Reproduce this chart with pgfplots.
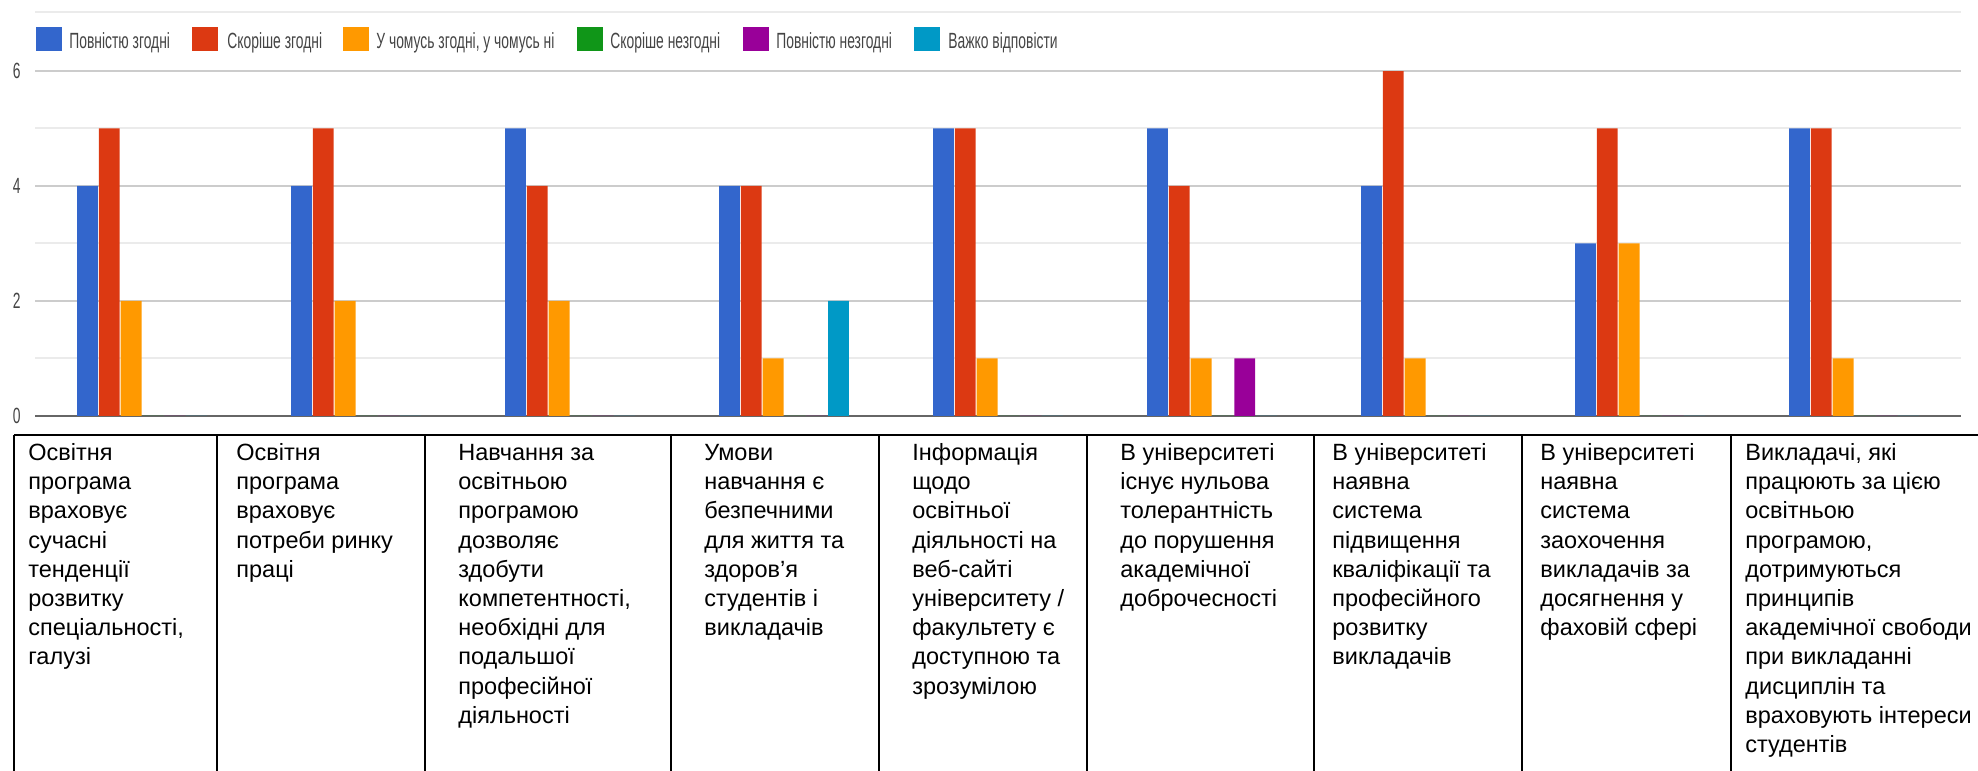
\documentclass[border=0pt]{standalone}
\usepackage{fontspec}
\setmainfont{Liberation Sans}
\newfontfamily\condfont[FakeStretch=0.63]{Liberation Sans}
\usepackage{pgfplots}
\pgfplotsset{compat=1.18}

\definecolor{gblue}{HTML}{3366CC}
\definecolor{gred}{HTML}{DC3912}
\definecolor{gorange}{HTML}{FF9900}
\definecolor{ggreen}{HTML}{109618}
\definecolor{gpurple}{HTML}{990099}
\definecolor{gteal}{HTML}{0099C6}
\definecolor{labelgray}{HTML}{444444}
\definecolor{gridmajor}{HTML}{CCCCCC}
\definecolor{gridminor}{HTML}{EBEBEB}
\definecolor{axisgray}{HTML}{666666}

\newcommand\cellfont{\fontsize{11.75pt}{14.6pt}\selectfont}
\newcommand\chartfont{\condfont\fontsize{11pt}{13pt}\selectfont\color{labelgray}}

\begin{document}
\begin{tikzpicture}[x=1pt,y=1pt]
\useasboundingbox (0,0) rectangle (989,385.5);

% light line above the legend
\draw[gridminor, line width=1pt] (17.5,379.5) -- (980.5,379.5);

\begin{axis}[
  at={(17.5pt,177.5pt)}, anchor=south west,
  scale only axis, width=963pt, height=172.5pt,
  xmin=-0.5, xmax=8.5, ymin=0, ymax=6,
  ybar=0.5pt, bar width=10.4pt,
  axis line style={draw=none},
  major tick length=0pt, minor tick length=0pt,
  xtick=\empty,
  ytick={2,4,6}, minor ytick={1,3,5},
  ymajorgrids, yminorgrids,
  major grid style={line width=1pt, draw=gridmajor},
  minor grid style={line width=1pt, draw=gridminor},
  extra y ticks={0},
  extra y tick style={major grid style={line width=1pt, draw=axisgray}},
  yticklabel style={font=\chartfont, inner sep=0pt, xshift=-7pt},
  /pgf/number format/assume math mode=true,
  clip=false,
]
% Повністю згодні
\addplot[fill=gblue, draw=none] coordinates {(0,4) (1,4) (2,5) (3,4) (4,5) (5,5) (6,4) (7,3) (8,5)};
% Скоріше згодні
\addplot[fill=gred, draw=none] coordinates {(0,5) (1,5) (2,4) (3,4) (4,5) (5,4) (6,6) (7,5) (8,5)};
% У чомусь згодні, у чомусь ні
\addplot[fill=gorange, draw=none] coordinates {(0,2) (1,2) (2,2) (3,1) (4,1) (5,1) (6,1) (7,3) (8,1)};
% Скоріше незгодні
\addplot[fill=ggreen, draw=none] coordinates {(0,0) (1,0) (2,0) (3,0) (4,0) (5,0) (6,0) (7,0) (8,0)};
% Повністю незгодні
\addplot[fill=gpurple, draw=none] coordinates {(0,0) (1,0) (2,0) (3,0) (4,0) (5,1) (6,0) (7,0) (8,0)};
% Важко відповісти
\addplot[fill=gteal, draw=none] coordinates {(0,0) (1,0) (2,0) (3,2) (4,0) (5,0) (6,0) (7,0) (8,0)};
\end{axis}

% legend
\foreach \sx/\tx/\col/\txt in {
  18/34.5/gblue/{Повністю згодні},
  96/113.5/gred/{Скоріше згодні},
  171.5/188/gorange/{У чомусь згодні, у чомусь ні},
  288.5/305/ggreen/{Скоріше незгодні},
  371.5/388/gpurple/{Повністю незгодні},
  457/474/gteal/{Важко відповісти}} {
  \fill[\col] (\sx,360) rectangle ++(13,12);
  \node[anchor=base west, inner sep=0pt, font=\chartfont] at (\tx,361) {\txt};
}

% table under the chart
\draw[black, line width=1pt] (7,168) -- (989,168);
\foreach \vx in {7,108.5,212.5,335.5,439.5,543.5,657,761,865.5}
  \draw[black, line width=1pt] (\vx,0) -- (\vx,168);

\tikzset{cell/.style={anchor=north west, inner sep=0pt, align=left, font=\cellfont}}
\node[cell] at (14,165.7) {\strut Освітня\\програма\\враховує\\сучасні\\тенденції\\розвитку\\спеціальності,\\галузі};
\node[cell] at (118,165.7) {\strut Освітня\\програма\\враховує\\потреби ринку\\праці};
\node[cell] at (229,165.7) {\strut Навчання за\\освітньою\\програмою\\дозволяє\\здобути\\компетентності,\\необхідні для\\подальшої\\професійної\\діяльності};
\node[cell] at (352,165.7) {\strut Умови\\навчання є\\безпечними\\для життя та\\здоров’я\\студентів і\\викладачів};
\node[cell] at (456,165.7) {\strut Інформація\\щодо\\освітньої\\діяльності на\\веб-сайті\\університету /\\факультету є\\доступною та\\зрозумілою};
\node[cell] at (560,165.7) {\strut В університеті\\існує нульова\\толерантність\\до порушення\\академічної\\доброчесності};
\node[cell] at (666,165.7) {\strut В університеті\\наявна\\система\\підвищення\\кваліфікації та\\професійного\\розвитку\\викладачів};
\node[cell] at (770,165.7) {\strut В університеті\\наявна\\система\\заохочення\\викладачів за\\досягнення у\\фаховій сфері};
\node[cell] at (872.5,165.7) {\strut Викладачі, які\\працюють за цією\\освітньою\\програмою,\\дотримуються\\принципів\\академічної свободи\\при викладанні\\дисциплін та\\враховують інтереси\\студентів};
\end{tikzpicture}
\end{document}
